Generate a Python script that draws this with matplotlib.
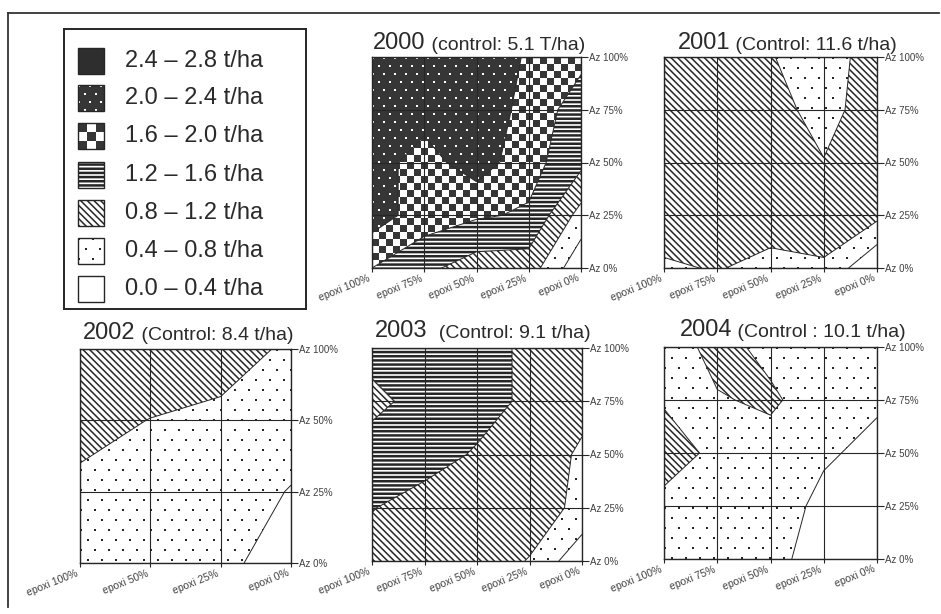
import numpy as np
import matplotlib.pyplot as plt
from matplotlib.patches import PathPatch, Rectangle
from matplotlib.lines import Line2D
from matplotlib.colors import to_rgb
import matplotlib.transforms as mtransforms

plt.rcParams['font.family'] = ['Liberation Sans', 'DejaVu Sans']

# yield classes (t/ha)
levels = [0.0, 0.4, 0.8, 1.2, 1.6, 2.0, 2.4, 2.8]

epoxi5 = ['epoxi 100%', 'epoxi 75%', 'epoxi 50%', 'epoxi 25%', 'epoxi 0%']
az5 = ['Az 0%', 'Az 25%', 'Az 50%', 'Az 75%', 'Az 100%']
epoxi4 = ['epoxi 100%', 'epoxi 50%', 'epoxi 25%', 'epoxi 0%']
az4 = ['Az 0%', 'Az 25%', 'Az 50%', 'Az 100%']

# rows from Az 0% (bottom) to Az 100% (top), columns from epoxi 100% to 0%
yield_2000 = [[1.60, 1.30, 1.00, 1.00, 0.10],
              [2.20, 1.80, 1.65, 1.55, 0.65],
              [2.15, 1.85, 2.20, 1.75, 1.30],
              [2.20, 2.15, 2.30, 1.85, 1.40],
              [2.10, 2.25, 2.30, 1.95, 1.70]]
yield_2001 = [[0.70, 0.85, 0.55, 0.75, 0.00],
              [1.20, 1.00, 1.20, 1.00, 0.90],
              [1.00, 1.05, 1.00, 0.82, 0.95],
              [1.05, 1.10, 1.00, 0.60, 1.10],
              [1.00, 1.05, 0.82, 0.60, 1.00]]
yield_2002 = [[0.60, 0.55, 0.50, 0.20],
              [0.70, 0.60, 0.60, 0.38],
              [0.95, 0.79, 0.60, 0.60],
              [1.10, 1.10, 1.20, 0.65]]
yield_2003 = [[1.00, 1.00, 1.00, 0.78, 0.10],
              [1.22, 1.00, 1.00, 1.00, 0.70],
              [1.45, 1.40, 1.15, 1.00, 0.75],
              [1.05, 1.40, 1.40, 1.10, 0.90],
              [1.40, 1.45, 1.40, 1.10, 1.00]]
yield_2004 = [[0.60, 0.60, 0.50, 0.25, 0.20],
              [0.62, 0.65, 0.60, 0.30, 0.25],
              [1.10, 0.65, 0.65, 0.45, 0.30],
              [0.74, 0.77, 0.86, 0.60, 0.45],
              [0.60, 0.92, 0.70, 0.60, 0.55]]

INK = '#262626'
DARK = '#363636'

# fill style for each class, from 0.0-0.4 up to 2.4-2.8
styles = [
    dict(kind='solid', fc='white'),
    dict(kind='dots', fg=INK, bg='white', sx=14, sy=10, r=2),
    dict(kind='hatch', hatch='\\\\\\\\\\', hlw=1.1),
    dict(kind='hatch', hatch='----', hlw=1.8),
    dict(kind='checker', size=7),
    dict(kind='dots', fg='white', bg=DARK, sx=11, sy=8, r=2),
    dict(kind='solid', fc='#2e2e2e'),
]

W, H = 941, 614
fig = plt.figure(figsize=(W / 100, H / 100), dpi=100)


def px_rect(x0, y0, x1, y1):
    return [x0 / W, 1 - y1 / H, (x1 - x0) / W, (y1 - y0) / H]


def texture(st, h, w, size=None):
    yy, xx = np.mgrid[0:h, 0:w]
    if st['kind'] == 'checker':
        s = size or st['size']
        on = ((xx // s + yy // s) % 2) == 0
        fg, bg = DARK, 'white'
    else:
        row = yy // st['sy']
        xo = (xx + (row % 2) * (st['sx'] // 2)) % st['sx']
        yo = yy % st['sy']
        on = (xo < st['r']) & (yo < st['r'])
        fg, bg = st['fg'], st['bg']
    return np.where(on[..., None], np.array(to_rgb(fg)), np.array(to_rgb(bg)))


def fill_band(ax, path, k, extent, wpx, hpx):
    st = styles[k]
    if st['kind'] in ('checker', 'dots'):
        im = ax.imshow(texture(st, hpx, wpx), extent=extent,
                       interpolation='nearest', aspect='auto', zorder=1)
        im.set_clip_path(PathPatch(path, transform=ax.transData))
        return
    if st['kind'] == 'solid':
        ax.add_patch(PathPatch(path, facecolor=st['fc'], lw=0, zorder=1))
        return
    p = PathPatch(path, facecolor='white', edgecolor=INK, lw=0,
                  hatch=st['hatch'], zorder=1)
    if hasattr(p, 'set_hatch_linewidth'):
        p.set_hatch_linewidth(st['hlw'])
    ax.add_patch(p)


def panel(box, z, xlabels, ylabels, year, note, title_dx, title_dy):
    ax = fig.add_axes(px_rect(*box))
    wpx, hpx = box[2] - box[0], box[3] - box[1]
    z = np.array(z)
    xs = np.arange(len(xlabels))
    ys = np.arange(len(ylabels))
    cs = ax.contourf(xs, ys, z, levels=levels)
    cs.set_visible(False)
    extent = (0, xs[-1], 0, ys[-1])
    for k, path in enumerate(cs.get_paths()):
        if len(path.vertices) == 0:
            continue
        fill_band(ax, path, k, extent, wpx, hpx)
    ax.contour(xs, ys, z, levels=levels[1:-1], colors=INK, linewidths=0.7,
               zorder=2)
    for xv in xs:
        ax.axvline(xv, color=INK, lw=0.8, zorder=3)
    for yv in ys:
        ax.axhline(yv, color=INK, lw=0.8, zorder=3)
    ax.set_xlim(0, xs[-1])
    ax.set_ylim(0, ys[-1])
    for s in ax.spines.values():
        s.set_color(INK)
        s.set_linewidth(1.0)
        s.set_zorder(4)

    ax.yaxis.tick_right()
    ax.set_yticks(ys)
    ax.set_yticklabels(ylabels, fontsize=7, color='#404040')
    ax.tick_params(axis='y', length=5, width=0.8, pad=1, color=INK)
    ax.set_xticks(xs)
    ax.set_xticklabels(xlabels, fontsize=7.5, color='#404040', rotation=22,
                       ha='right', va='top', rotation_mode='anchor')
    ax.tick_params(axis='x', length=3, width=0.8, pad=0, color=INK)
    shift = mtransforms.ScaledTranslation(-4 / 100, -1 / 100, fig.dpi_scale_trans)
    for lab in ax.get_xticklabels():
        lab.set_transform(lab.get_transform() + shift)

    t = ax.annotate(year, xy=(0, 1), xycoords='axes fraction',
                    xytext=(title_dx * 0.72, title_dy * 0.72),
                    textcoords='offset points', fontsize=17, va='baseline',
                    color='#2a2a2a')
    ax.annotate(note, xy=(1, 0), xycoords=t, xytext=(0, 0),
                textcoords='offset points', fontsize=14, va='bottom',
                color='#2a2a2a')
    return ax


panel((372, 57, 581, 268), yield_2000, epoxi5, az5,
      '2000', ' (control: 5.1 T/ha)', 1, 8)
panel((664, 57, 877, 268), yield_2001, epoxi5, az5,
      '2001', ' (Control: 11.6 t/ha)', 14, 8)
panel((80, 349, 291, 563), yield_2002, epoxi4, az4,
      '2002', ' (Control: 8.4 t/ha)', 3, 10)
panel((372, 348, 582, 561), yield_2003, epoxi5, az5,
      '2003', '  (Control: 9.1 t/ha)', 3, 11)
panel((664, 347, 877, 559), yield_2004, epoxi5, az5,
      '2004', ' (Control : 10.1 t/ha)', 16, 11)

# legend box
lg = fig.add_axes(px_rect(64, 29, 306, 309))
lg.set_xticks([])
lg.set_yticks([])
for s in lg.spines.values():
    s.set_color(INK)
    s.set_linewidth(1.4)
row_y = [260, 222, 184, 146, 107, 69, 32]
for k in range(len(levels) - 1):
    yc = row_y[k]
    st = styles[k]
    x0, y0, sw = 14, yc - 13, 26
    if st['kind'] in ('checker', 'dots'):
        tex = texture(st, sw, sw, size=9)
        lg.imshow(tex, extent=(x0, x0 + sw, y0 + sw, y0),
                  interpolation='nearest', aspect='auto')
    elif st['kind'] == 'solid':
        lg.add_patch(Rectangle((x0, y0), sw, sw, facecolor=st['fc'], lw=0))
    else:
        p = Rectangle((x0, y0), sw, sw, facecolor='white', edgecolor=INK,
                      lw=0, hatch=st['hatch'])
        if hasattr(p, 'set_hatch_linewidth'):
            p.set_hatch_linewidth(st['hlw'])
        lg.add_patch(p)
    lg.add_patch(Rectangle((x0, y0), sw, sw, fill=False, ec=INK, lw=1))
    lg.text(61, yc, '%.1f – %.1f t/ha' % (levels[k], levels[k + 1]),
            fontsize=17, va='center', ha='left', color='#2a2a2a')
lg.set_xlim(0, 242)
lg.set_ylim(280, 0)

# page frame
fig.add_artist(Line2D([8 / W, 8 / W], [1 - 607 / H, 1 - 13 / H], color='#333333', lw=1.3))
fig.add_artist(Line2D([8 / W, 939 / W], [1 - 13 / H, 1 - 13 / H], color='#333333', lw=1.3))

fig.savefig('out.png', dpi=100, facecolor='white')
